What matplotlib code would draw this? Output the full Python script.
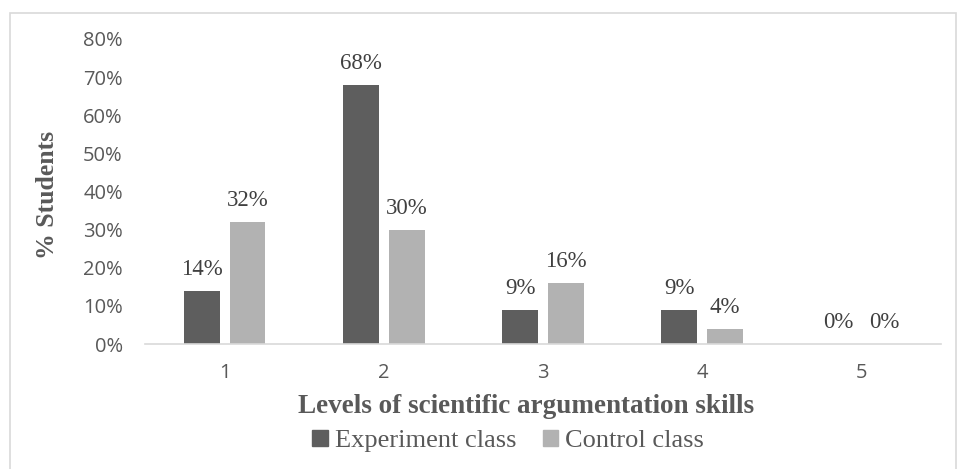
import numpy as np
import matplotlib.pyplot as plt
from matplotlib.patches import Patch, Rectangle

levels = ['1', '2', '3', '4', '5']
experiment = [14, 68, 9, 9, 0]
control = [32, 30, 16, 4, 0]
yticks = [0, 10, 20, 30, 40, 50, 60, 70, 80]

dark = '#5e5e5e'
light = '#b2b2b2'
txt = '#595959'

fig = plt.figure(figsize=(9.57, 4.69), dpi=100)
ax = fig.add_axes([145/957, 125/469, 796/957, 305/469])

x = np.arange(len(levels))
w = 0.225
off = 0.144
b1 = ax.bar(x - off, experiment, w, color=dark)
b2 = ax.bar(x + off, control, w, color=light)

for bars, vals in [(b1, experiment), (b2, control)]:
    for rect, v in zip(bars, vals):
        ax.text(rect.get_x() + rect.get_width()/2, v + 2.8, f'{v}%',
                ha='center', va='bottom', fontsize=16.5, color='#404040',
                family='Liberation Serif')

ax.set_xlim(-0.5, 4.5)
ax.set_ylim(0, 80)
ax.set_yticks(yticks)
ax.set_yticklabels([f'{t}%' for t in yticks])
ax.set_xticks(x)
ax.set_xticklabels(levels)
for lab in ax.get_xticklabels() + ax.get_yticklabels():
    lab.set_family('Open Sans')
    lab.set_fontsize(14.5)
    lab.set_color(txt)
ax.tick_params(axis='both', length=0)
ax.tick_params(axis='y', pad=16)
ax.tick_params(axis='x', pad=14)

for s in ['top', 'right', 'left']:
    ax.spines[s].set_visible(False)
ax.spines['bottom'].set_color('#d9d9d9')
ax.spines['bottom'].set_linewidth(1.2)

ax.set_ylabel('% Students', family='Liberation Serif', fontsize=18.5,
              fontweight='bold', color=txt)
ax.yaxis.set_label_coords((59-145)/796, 0.49)
ax.set_xlabel('Levels of scientific argumentation skills', family='Liberation Serif',
              fontsize=19.5, fontweight='bold', color=txt)
ax.xaxis.set_label_coords((526.5-145)/796, (344-394)/305)

handles = [Patch(color=dark, label='Experiment class'),
           Patch(color=light, label='Control class')]
leg = fig.legend(handles=handles, loc='center', bbox_to_anchor=(508/957, 1 - 441/469),
                 ncol=2, frameon=False, handlelength=0.6, handleheight=0.6,
                 handletextpad=0.25, columnspacing=1.0,
                 prop={'family': 'Liberation Serif', 'size': 19})
for t in leg.get_texts():
    t.set_color(txt)

fig.patches.append(Rectangle((10/957, -0.1), 946/957, 1.1 - 13/469,
                             transform=fig.transFigure, fill=False,
                             edgecolor='#d9d9d9', linewidth=1.2))

fig.savefig('out.png', dpi=100)
